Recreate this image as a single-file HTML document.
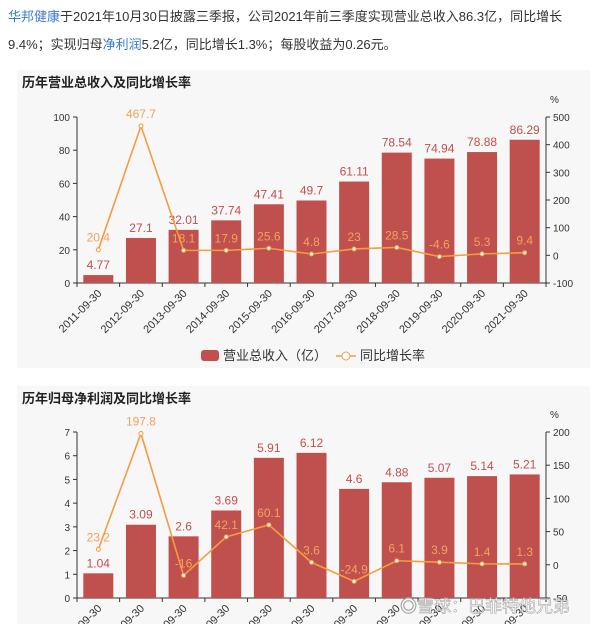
<!DOCTYPE html>
<html><head><meta charset="utf-8"><style>
body{margin:0;background:#fff;width:600px;height:624px;overflow:hidden;font-family:"Liberation Sans","Noto Sans CJK SC",sans-serif}
.txt{position:absolute;left:8px;top:3px;width:590px;font-size:13px;line-height:28px;color:#333}
.txt a{color:#3a7bd5;text-decoration:none}
svg{position:absolute;left:0;top:0}
</style></head><body>
<div class="txt"><a>华邦健康</a>于2021年10月30日披露三季报，公司2021年前三季度实现营业总收入86.3亿，同比增长9.4%；实现归母<a>净利润</a>5.2亿，同比增长1.3%；每股收益为0.26元。</div>
<svg id="s" width="600" height="624"></svg>
<script>
const cats=["2011-09-30","2012-09-30","2013-09-30","2014-09-30","2015-09-30","2016-09-30","2017-09-30","2018-09-30","2019-09-30","2020-09-30","2021-09-30"];
const rev=[4.77,27.1,32.01,37.74,47.41,49.7,61.11,78.54,74.94,78.88,86.29];
const revRate=[20.4,467.7,18.1,17.9,25.6,4.8,23,28.5,-4.6,5.3,9.4];
const revTicksL=[0,20,40,60,80,100];
const revTicksR=[-100,0,100,200,300,400,500];
const np=[1.04,3.09,2.6,3.69,5.91,6.12,4.6,4.88,5.07,5.14,5.21];
const npRate=[23.2,197.8,-16,42.1,60.1,3.6,-24.9,6.1,3.9,1.4,1.3];
const npTicksL=[0,1,2,3,4,5,6,7];
const npTicksR=[-50,0,50,100,150,200];
const S=document.getElementById('s'),NS='http://www.w3.org/2000/svg';
function el(t,a,p){const e=document.createElementNS(NS,t);for(const k in a)e.setAttribute(k,a[k]);(p||S).appendChild(e);return e}
function tx(x,y,s,a){const e=el('text',Object.assign({x:x,y:y},a));e.textContent=s;return e}
function chart(o){
 const g=el('g',{});
 
 
 const bg=el('rect',{x:17,y:o.py,width:573,height:o.ph,fill:'#f7f7f7'},g);
 
 const t=tx(22,o.py+17,o.title,{'font-size':13,'font-weight':'bold',fill:'#222'});g.appendChild(t);
 
 const x0=77,x1=546,bw=(x1-x0)/cats.length;
 const yL=v=>o.y0-(v-o.lmin)/(o.lmax-o.lmin)*(o.y0-o.y1);
 const yR=v=>o.y0-(v-o.rmin)/(o.rmax-o.rmin)*(o.y0-o.y1);
 const cx=i=>x0+bw*(i+0.5);
 el('line',{x1:x0,y1:o.y0,x2:x0,y2:o.y1,stroke:'#333'},g);
 el('line',{x1:x1,y1:o.y0,x2:x1,y2:o.y1,stroke:'#333'},g);
 el('line',{x1:x0,y1:o.y0,x2:x1,y2:o.y0,stroke:'#333'},g);
 o.tl.forEach(v=>{el('line',{x1:x0-4,y1:yL(v),x2:x0,y2:yL(v),stroke:'#333'},g);const e=tx(x0-7,yL(v)+4,v,{'font-size':10,fill:'#333','text-anchor':'end'});g.appendChild(e);});
 o.tr.forEach(v=>{el('line',{x1:x1,y1:yR(v),x2:x1+4,y2:yR(v),stroke:'#333'},g);const e=tx(x1+7,yR(v)+4,v,{'font-size':10,fill:'#333'});g.appendChild(e);});
 g.appendChild(tx(x1+4,o.y1-14,'%',{'font-size':10,fill:'#333'}));
 for(let i=0;i<=cats.length;i++)el('line',{x1:x0+bw*i,y1:o.y0,x2:x0+bw*i,y2:o.y0+4,stroke:'#333'},g);
 o.bars.forEach((v,i)=>{
  const r=el('rect',{x:cx(i)-15,y:yL(v),width:30,height:o.y0-yL(v),fill:'#c0504d'},g);
  
  g.appendChild(tx(cx(i),yL(v)-6,v,{'font-size':12,fill:'#c0504d','text-anchor':'middle'}));
  const l=tx(cx(i)+4,o.y0+11,cats[i],{'font-size':11,fill:'#333','text-anchor':'end',transform:`rotate(-45 ${cx(i)+4} ${o.y0+11})`});g.appendChild(l);
  
 });
 const pl=el('polyline',{points:o.rate.map((v,i)=>cx(i)+','+yR(v)).join(' '),fill:'none',stroke:'#f59c42','stroke-width':1.6},g);
 
 o.rate.forEach((v,i)=>{const c=el('circle',{cx:cx(i),cy:yR(v),r:2,fill:'#fff',stroke:'#f59c42'},g);
  g.appendChild(tx(cx(i),yR(v)-8,v,{'font-size':12,fill:'#f0a35e','text-anchor':'middle'}));});
 if(o.legend){
  const lg=el('g',{},g);
  el('rect',{x:201,y:350,width:18,height:11,rx:3,fill:'#c0504d'},lg);
  lg.appendChild(tx(223,360,'营业总收入（亿）',{'font-size':13,fill:'#333'}));
  el('line',{x1:336,y1:356,x2:356,y2:356,stroke:'#f59c42','stroke-width':1.5},lg);
  el('circle',{cx:346,cy:356,r:4,fill:'#fff',stroke:'#f59c42'},lg);
  lg.appendChild(tx(360,360,'同比增长率',{'font-size':13,fill:'#333'}));
 }
}
chart({name:'revenue-chart',py:70,ph:298,title:'历年营业总收入及同比增长率',y0:283,y1:117,lmin:0,lmax:100,rmin:-100,rmax:500,tl:revTicksL,tr:revTicksR,bars:rev,rate:revRate,legend:true});
chart({name:'net-profit-chart',py:386,ph:238,title:'历年归母净利润及同比增长率',y0:598,y1:432,lmin:0,lmax:7,rmin:-50,rmax:200,tl:npTicksL,tr:npTicksR,bars:np,rate:npRate,legend:false});
const w=tx(400,612,'◎雪球：巴菲特他兄弟',{'font-size':17,fill:'#fff','fill-opacity':0.75,stroke:'#999','stroke-width':0.5});

</script>
</body></html>
